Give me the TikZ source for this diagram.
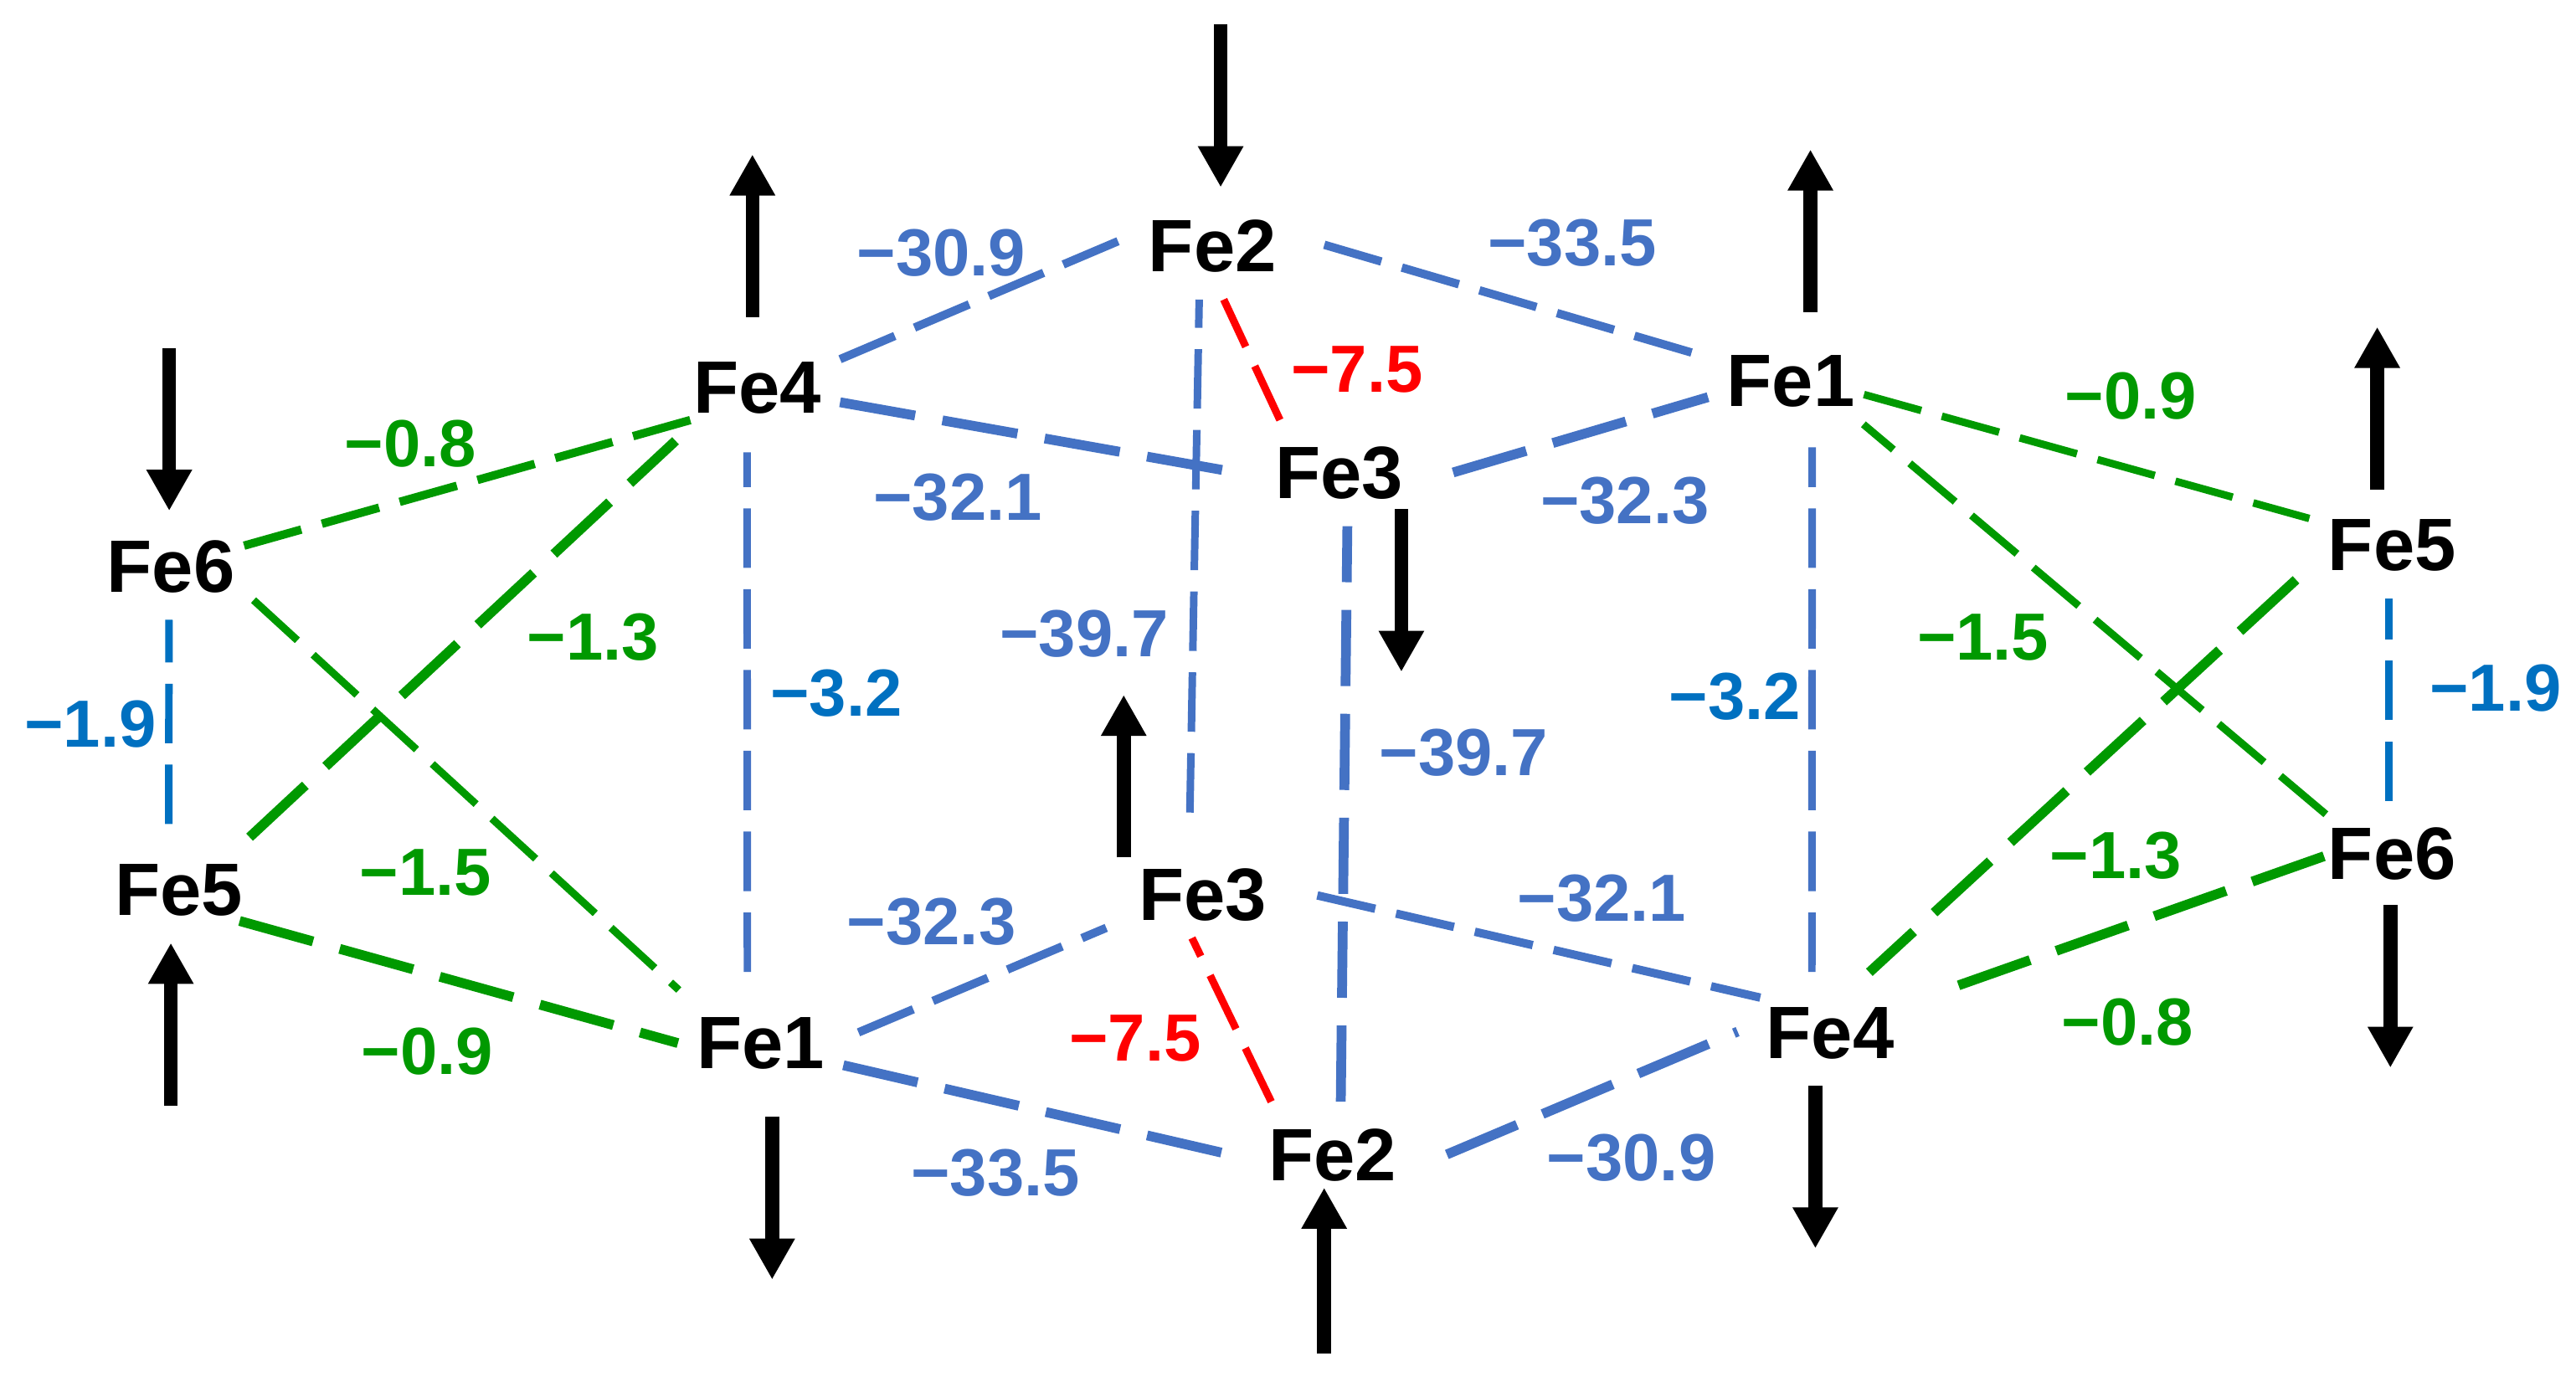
\documentclass[tikz,border=0pt]{standalone}
\usepackage{fontspec}
\setmainfont{Liberation Sans}
\usepackage{tikz}
\usetikzlibrary{arrows.meta}
\definecolor{cblue}{HTML}{4472C4}
\definecolor{dblue}{HTML}{0070C0}
\definecolor{cgreen}{HTML}{009900}
\definecolor{cred}{HTML}{FF0000}
\tikzset{
    fe/.style={inner sep=0pt, minimum width=2cm, minimum height=1.28cm, font=\fontsize{25.7}{30}\selectfont\bfseries},
    val/.style={inner sep=0pt, font=\fontsize{23.1}{28}\selectfont\bfseries},
    thinl/.style={line width=2.6pt, dash pattern=on 20.6pt off 7.4pt},
    medl/.style={line width=2.9pt, dash pattern=on 20.6pt off 7.4pt},
    thickl/.style={line width=3.4pt, dash pattern=on 26.4pt off 9.6pt},
    spin/.style={line width=4.8pt, -{Triangle[width=0.52cm, length=0.5cm]}}
}

\begin{document}
\begin{tikzpicture}[x=0.02cm, y=-0.02cm]
    \useasboundingbox (0,0) rectangle (1568,841);

    % upper layer
    \node[fe] (uFe6) at (104,345) {Fe6};
    \node[fe] (uFe4) at (461,236) {Fe4};
    \node[fe] (uFe2) at (738,150) {Fe2};
    \node[fe] (uFe3) at (815,288) {Fe3};
    \node[fe] (uFe1) at (1090,232) {Fe1};
    \node[fe] (uFe5) at (1456,332) {Fe5};
    % lower layer
    \node[fe] (lFe5) at (109,542) {Fe5};
    \node[fe] (lFe1) at (463,635) {Fe1};
    \node[fe] (lFe3) at (732,545) {Fe3};
    \node[fe] (lFe2) at (811,703) {Fe2};
    \node[fe] (lFe4) at (1114,629) {Fe4};
    \node[fe] (lFe6) at (1456,520) {Fe6};

    % J1 and J2
    \draw[cblue, medl] (uFe4.19) -- (uFe2.173);
    \draw[cblue, medl, shorten <=0.37cm] (uFe2.7) -- (uFe1.164);
    \draw[cblue, thickl, shorten >=0.4cm] (uFe4.-10) -- (uFe3.182);
    \draw[cblue, thickl, shorten <=0.4cm] (uFe3.-6) -- (uFe1.191);
    \draw[cblue, thinl, shorten <=0.36cm] (lFe3.104) -- (uFe2.-104);
    \draw[cblue, thickl] (lFe2.81) -- (uFe3.-81);
    \draw[cblue, thinl, shorten <=0.22cm, shorten >=0.14cm] (lFe1.104) -- (uFe4.-101);
    \draw[cblue, thinl, shorten <=0.1cm, shorten >=0.16cm] (lFe4.109) -- (uFe1.-68);
    \draw[cblue, medl, shorten <=0.2cm, shorten >=0.18cm] (lFe1.3) -- (lFe3.198);
    \draw[cblue, thickl, shorten >=0.22cm] (lFe1.-15) -- (lFe2.183);
    \draw[cblue, medl, shorten <=0.4cm, shorten >=-0.16cm] (lFe3.5) -- (lFe4.155);
    \draw[cblue, thickl, shorten <=0.42cm, shorten >=0.13cm] (lFe2.-9) -- (lFe4.176);
    % J3
    \draw[cred, thinl] (uFe3.138) -- (uFe2.-78);
    \draw[cred, thinl, shorten >=-0.14cm] (lFe2.139) -- (lFe3.-96);
    % J4, J5 and J6
    \draw[cgreen, medl, shorten <=-0.12cm, shorten >=-0.28cm] (uFe6.16) -- (uFe4.204);
    \draw[cgreen, thickl] (lFe5.37) -- (uFe4.-147);
    \draw[cgreen, thinl] (uFe6.-22) -- (lFe1.147);
    \draw[cgreen, thickl, shorten <=-0.28cm] (lFe5.-24) -- (lFe1.180);
    \draw[cgreen, thinl, shorten <=-0.12cm] (uFe1.-11) -- (uFe5.162);
    \draw[cgreen, thinl, shorten <=-0.25cm, shorten >=-0.16cm] (lFe6.147) -- (uFe1.-32);
    \draw[cgreen, thickl, shorten <=0.22cm, shorten >=0.14cm] (uFe5.195) -- (lFe4.60);
    \draw[cgreen, thickl, shorten <=-0.19cm, shorten >=0.59cm] (lFe6.185) -- (lFe4.21);
    % J7
    \draw[dblue, thinl, shorten <=0.16cm] (lFe5.101) -- (uFe6.-92);
    \draw[dblue, thinl] (lFe6.93) -- (uFe5.-93);

    % upper layer moments
    \coordinate (a6) at (103,212);  \coordinate (b6) at (103,311);
    \coordinate (a4) at (458,193);  \coordinate (b4) at (458,94);
    \coordinate (a2) at (743,15);   \coordinate (b2) at (743,114);
    \coordinate (a3) at (853,310);  \coordinate (b3) at (853,409);
    \coordinate (a1) at (1102,190); \coordinate (b1) at (1102,91);
    \coordinate (a5) at (1447,298); \coordinate (b5) at (1447,199);
    % lower layer moments
    \coordinate (c5) at (104,673);  \coordinate (d5) at (104,574);
    \coordinate (c1) at (470,680);  \coordinate (d1) at (470,779);
    \coordinate (c3) at (684,522);  \coordinate (d3) at (684,423);
    \coordinate (c2) at (806,824);  \coordinate (d2) at (806,723);
    \coordinate (c4) at (1105,661); \coordinate (d4) at (1105,760);
    \coordinate (c6) at (1455,551); \coordinate (d6) at (1455,650);
    \foreach \n in {1,...,6} {
        \draw[spin] (a\n) -- (b\n);
        \draw[spin] (c\n) -- (d\n);
    }

    \node[val, cblue] (vA) at (573,154) {−30.9};
    \node[val, cblue] (vB) at (957,148) {−33.5};
    \node[val, cblue] (vC) at (583,303) {−32.1};
    \node[val, cblue] (vD) at (989,305) {−32.3};
    \node[val, cblue] (vE) at (660,386) {−39.7};
    \node[val, cblue] (vF) at (891,458) {−39.7};
    \node[val, cblue] (vG) at (567,561) {−32.3};
    \node[val, cblue] (vH) at (975,547) {−32.1};
    \node[val, cblue] (vI) at (606,714) {−33.5};
    \node[val, cblue] (vJ) at (993,705) {−30.9};
    \node[val, cred] (vK) at (826,225) {−7.5};
    \node[val, cred] (vL) at (691,632) {−7.5};
    \node[val, dblue] (vM) at (509,422) {−3.2};
    \node[val, dblue] (vN) at (1056,424) {−3.2};
    \node[val, dblue] (vO) at (55,441) {−1.9};
    \node[val, dblue] (vP) at (1519,419) {−1.9};
    \node[val, cgreen] (vQ) at (250,270) {−0.8};
    \node[val, cgreen] (vR) at (361,388) {−1.3};
    \node[val, cgreen] (vS) at (259,531) {−1.5};
    \node[val, cgreen] (vT) at (260,640) {−0.9};
    \node[val, cgreen] (vU) at (1297,241) {−0.9};
    \node[val, cgreen] (vV) at (1207,388) {−1.5};
    \node[val, cgreen] (vW) at (1288,521) {−1.3};
    \node[val, cgreen] (vX) at (1295,622) {−0.8};
\end{tikzpicture}
\end{document}
